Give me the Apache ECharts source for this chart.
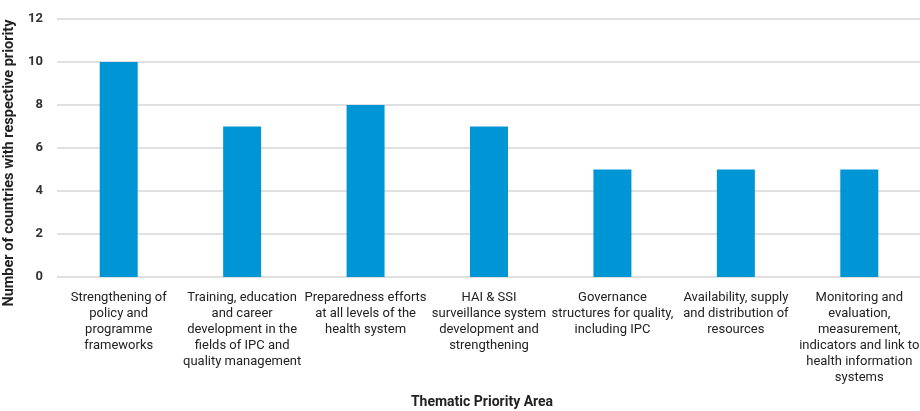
<!DOCTYPE html>
<html>
<head>
<meta charset="utf-8">
<script src="https://cdn.jsdelivr.net/npm/echarts@6/dist/echarts.min.js"></script>
<style>
  html, body { margin: 0; padding: 0; background: #fff; }
  #chart { width: 920px; height: 411px; }
</style>
</head>
<body>
<div id="chart"></div>
<script>
// Thematic priority areas (x-axis categories, with line breaks as printed)
const categories = [
  'Strengthening of\npolicy and\nprogramme\nframeworks',
  'Training, education\nand career\ndevelopment in the\nfields of IPC and\nquality management',
  'Preparedness efforts\nat all levels of the\nhealth system',
  'HAI & SSI\nsurveillance system\ndevelopment and\nstrengthening',
  'Governance\nstructures for quality,\nincluding IPC',
  'Availability, supply\nand distribution of\nresources',
  'Monitoring and\nevaluation,\nmeasurement,\nindicators and link to\nhealth information\nsystems'
];

// Number of countries naming each area as a priority
const countryCounts = [10, 7, 8, 7, 5, 5, 5];

// Value axis ticks
const yTicks = { min: 0, max: 12, interval: 2 };

const chart = echarts.init(document.getElementById('chart'));
chart.setOption({
  animation: false,
  textStyle: { fontFamily: 'Roboto, sans-serif' },
  grid: {
    left: 57, top: 19, width: 864, bottom: 134,
    containLabel: false,
    outerBoundsMode: 'none'
  },
  xAxis: {
    type: 'category',
    data: categories,
    name: 'Thematic Priority Area',
    nameLocation: 'middle',
    nameGap: 118,
    nameTextStyle: { fontSize: 14, fontWeight: 'bold', color: '#222', padding: [0, 14, 0, 0] },
    axisLine: { show: false },
    axisTick: { show: false },
    axisLabel: {
      interval: 0,
      margin: 13,
      fontSize: 13,
      lineHeight: 16,
      color: '#222',
      align: 'center'
    }
  },
  yAxis: {
    type: 'value',
    min: yTicks.min,
    max: yTicks.max,
    interval: yTicks.interval,
    name: 'Number of countries with respective priority',
    nameLocation: 'middle',
    nameRotate: 90,
    nameGap: 35,
    nameTextStyle: { fontSize: 14.5, fontWeight: 'bold', color: '#222', padding: [0, 30, 0, 0] },
    axisLine: { show: false },
    axisTick: { show: false },
    axisLabel: { fontSize: 13, fontWeight: 'bold', color: '#333', margin: 14 },
    splitLine: { lineStyle: { color: '#d6d6d6', width: 1.5 } }
  },
  series: [{
    type: 'bar',
    data: countryCounts,
    barWidth: 38,
    itemStyle: { color: '#0096d6' }
  }]
});
</script>
</body>
</html>
